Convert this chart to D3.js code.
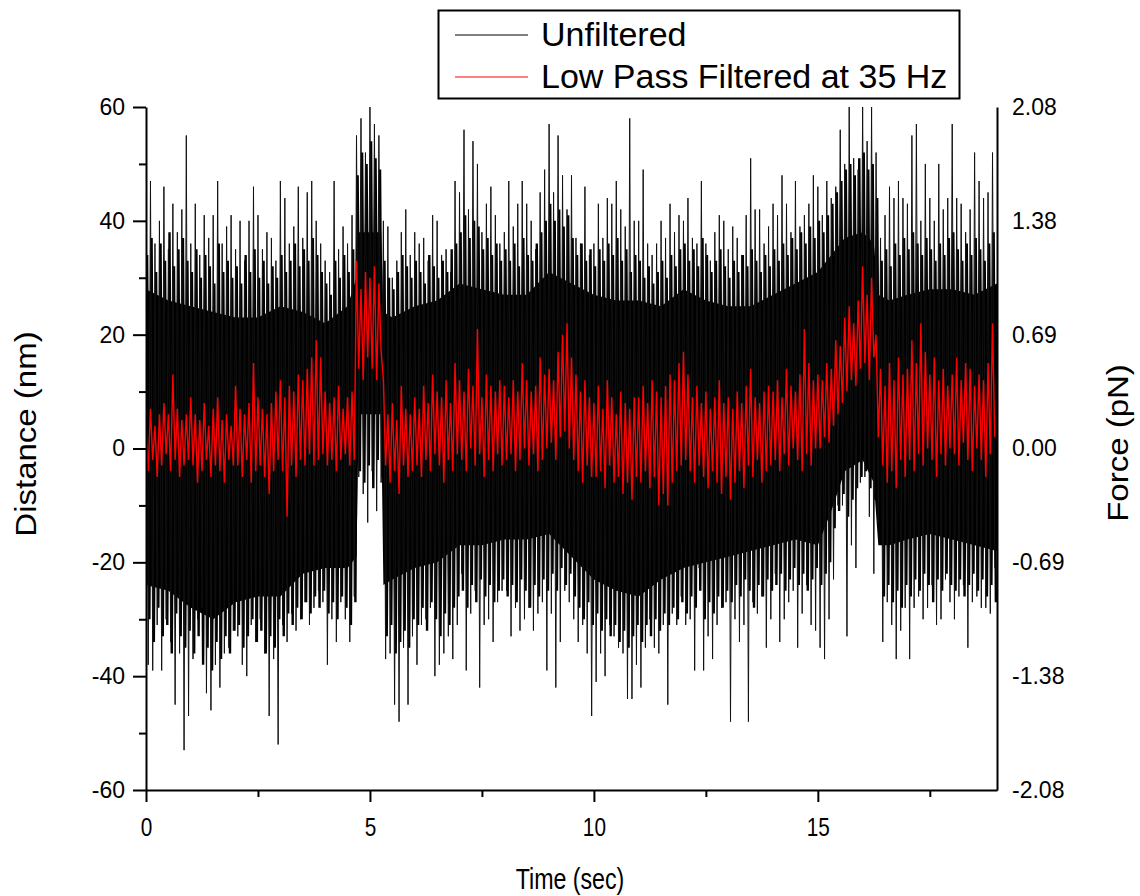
<!DOCTYPE html>
<html lang="en">
<head>
  <meta charset="UTF-8">
  <title>Distance / Force trace</title>
  <script src="https://d3js.org/d3.v7.min.js"></script>
  <style>
    html, body {
      margin: 0;
      padding: 0;
      background: #fff;
    }
    svg {
      display: block;
      font-family: Arial, "Liberation Sans", sans-serif;
    }
  </style>
</head>
<body>
<svg id="canvas" width="1140" height="896"></svg>

<script>
  // sampling step of the envelope arrays below (sec)
  let step = 0.1

  // unfiltered trace: tallest spikes, max / min of each 0.1 s bin (nm)
  let peakHi = [
    43, 47, 36, 40, 46, 35, 43, 38, 42, 55,
    36, 43, 34, 41, 37, 41, 47, 36, 39, 41,
    35, 40, 33, 40, 46, 41, 35, 38, 37, 33,
    47, 44, 36, 39, 46, 37, 45, 47, 40, 36,
    33, 31, 47, 35, 39, 36, 41, 55, 58, 52,
    60, 57, 55, 40, 39, 30, 33, 38, 42, 34,
    38, 36, 37, 33, 41, 40, 34, 35, 31, 47,
    45, 56, 42, 54, 50, 38, 43, 46, 41, 36,
    38, 47, 39, 43, 47, 43, 40, 35, 45, 49,
    57, 45, 55, 48, 42, 48, 37, 36, 46, 34,
    36, 43, 37, 44, 43, 47, 42, 39, 58, 40,
    40, 49, 36, 34, 36, 40, 37, 43, 38, 41,
    40, 44, 37, 36, 47, 36, 33, 38, 41, 40,
    35, 39, 37, 34, 41, 51, 42, 42, 36, 39,
    43, 41, 48, 43, 38, 47, 39, 41, 43, 48,
    46, 41, 47, 44, 46, 56, 50, 60, 51, 49,
    60, 54, 60, 52, 37, 41, 46, 44, 47, 44,
    43, 55, 57, 40, 50, 44, 40, 50, 42, 44,
    57, 44, 43, 38, 42, 52, 47, 44, 45, 52
  ]
  let peakLo = [
    -38, -39, -31, -39, -30, -34, -45, -36, -53, -47,
    -37, -30, -28, -43, -46, -38, -42, -36, -35, -32,
    -33, -38, -40, -31, -34, -30, -36, -47, -37, -52,
    -31, -34, -29, -32, -30, -27, -31, -28, -25, -27,
    -38, -30, -34, -27, -30, -34, -26, -5, -8, -13,
    -4, -11, -6, -37, -36, -45, -48, -35, -45, -33,
    -38, -31, -30, -28, -40, -38, -36, -33, -37, -31,
    -22, -39, -29, -25, -42, -31, -30, -34, -27, -25,
    -25, -33, -28, -32, -30, -28, -32, -29, -27, -39,
    -29, -42, -34, -25, -27, -30, -34, -31, -36, -47,
    -41, -36, -40, -31, -33, -35, -36, -44, -44, -38,
    -42, -35, -30, -35, -36, -31, -45, -29, -31, -26,
    -31, -30, -39, -21, -39, -33, -37, -31, -28, -27,
    -48, -30, -34, -31, -48, -27, -29, -26, -35, -30,
    -22, -34, -30, -27, -25, -35, -29, -24, -31, -32,
    -35, -37, -30, -23, -10, -10, -33, -17, -21, -6,
    -5, -12, -22, -13, -34, -27, -31, -37, -32, -28,
    -37, -28, -26, -30, -28, -24, -31, -30, -23, -27,
    -30, -26, -24, -35, -27, -26, -28, -28, -29, -21
  ]

  // unfiltered trace: tips of the dense spikes, per 0.1 s bin (nm)
  let edgeHi = [
    34, 37, 31, 36, 33, 38, 32, 35, 37, 33,
    31, 35, 30, 34, 32, 29, 36, 31, 33, 30,
    32, 29, 34, 31, 35, 30, 33, 29, 32, 30,
    34, 31, 33, 36, 32, 35, 33, 37, 34, 31,
    29, 27, 33, 30, 34, 31, 35, 48, 52, 50,
    54, 51, 49, 33, 30, 28, 31, 34, 32, 30,
    33, 31, 29, 34, 32, 30, 33, 31, 35, 36,
    38, 41, 37, 40, 39, 35, 37, 34, 36, 33,
    35, 33, 36, 32, 37, 34, 33, 36, 38, 40,
    43, 40, 42, 39, 41, 37, 34, 36, 33, 35,
    32, 35, 33, 36, 34, 37, 33, 35, 31, 34,
    33, 30, 32, 29, 31, 33, 30, 34, 32, 35,
    36, 33, 35, 32, 37, 34, 31, 33, 35, 32,
    30, 33, 31, 34, 32, 35, 33, 31, 34, 32,
    35, 33, 36, 34, 37, 35, 38, 36, 39, 37,
    40, 38, 41, 43, 45, 47, 49, 50, 48, 51,
    52, 49, 50, 44, 33, 35, 32, 36, 34, 37,
    35, 38, 36, 34, 37, 35, 33, 36, 34, 37,
    38, 35, 33, 36, 34, 37, 35, 33, 36, 38
  ]
  let edgeLo = [
    -30, -34, -28, -33, -31, -36, -29, -33, -35, -32,
    -36, -33, -38, -35, -39, -34, -37, -33, -36, -32,
    -31, -35, -33, -30, -34, -32, -36, -33, -35, -30,
    -33, -29, -31, -28, -30, -27, -29, -26, -28, -25,
    -29, -27, -30, -26, -28, -31, -27, -4, -6, -3,
    -7, -2, -5, -33, -31, -36, -34, -32, -35, -30,
    -31, -28, -32, -27, -30, -33, -29, -31, -28, -26,
    -25, -28, -24, -27, -23, -26, -24, -27, -25, -23,
    -26, -24, -27, -23, -25, -28, -24, -26, -23, -25,
    -22, -25, -21, -24, -22, -26, -28, -30, -27, -31,
    -29, -32, -30, -33, -31, -34, -32, -35, -33, -31,
    -34, -31, -33, -30, -32, -29, -31, -28, -30, -27,
    -29, -26, -28, -25, -30, -27, -29, -26, -28, -25,
    -27, -24, -26, -23, -25, -28, -24, -26, -23, -25,
    -24, -22, -25, -23, -21, -24, -22, -25, -23, -21,
    -24, -22, -20, -14, -11, -8, -12, -9, -7, -5,
    -4, -7, -9, -14, -26, -24, -27, -25, -28, -24,
    -26, -23, -25, -22, -24, -27, -23, -25, -22, -24,
    -25, -23, -26, -24, -22, -25, -23, -26, -24, -27
  ]

  // solid middle of the unfiltered trace
  let coreT  = [0, 0.5, 1, 1.5, 2, 2.5, 3, 3.5, 4, 4.5, 4.7, 4.75, 5.25, 5.3, 5.5, 6, 6.5, 7, 7.5, 8,
                8.5, 9, 9.5, 10, 10.5, 11, 11.5, 12, 12.5, 13, 13.5, 14, 14.5, 15, 15.3, 15.6, 16, 16.25, 16.35, 16.6,
                17, 17.5, 18, 18.5, 19]
  let coreHi = [28, 26, 25, 24, 23, 23, 25, 24, 22, 25, 30, 38, 38, 24, 23, 25, 26, 29, 28, 27,
                27, 31, 29, 27, 26, 26, 25, 28, 26, 25, 25, 27, 29, 31, 34, 37, 38, 36, 27, 26,
                27, 28, 28, 27, 29]
  let coreLo = [-24, -25, -28, -30, -27, -26, -26, -22, -21, -21, -19, 6, 6, -24, -23, -21, -20, -17, -17, -16,
                -16, -15, -19, -23, -25, -26, -23, -21, -20, -19, -18, -17, -16, -17, -11, -4, -2, -6, -17, -17,
                -16, -15, -16, -17, -18]

  // low pass filtered trace: max / min of each 0.1 s bin (nm)
  let redHi = [
    5, 7, 4, 6, 8, 6, 13, 7, 5, 6,
    9, 6, 5, 8, 4, 7, 9, 5, 6, 4,
    11, 7, 6, 8, 15, 9, 7, 6, 8, 10,
    12, 9, 11, 10, 13, 12, 14, 16, 19, 16,
    10, 8, 9, 11, 7, 9, 10, 33, 28, 31,
    30, 32, 29, 12, 6, 8, 5, 11, 7, 6,
    9, 7, 11, 8, 13, 10, 9, 12, 8, 15,
    12, 10, 14, 11, 21, 9, 13, 11, 10, 12,
    11, 9, 12, 10, 15, 12, 10, 11, 16, 13,
    14, 12, 17, 20, 22, 16, 13, 10, 12, 9,
    8, 11, 7, 12, 9, 6, 10, 8, 7, 9,
    9, 11, 8, 12, 10, 9, 11, 13, 12, 15,
    17, 13, 9, 11, 8, 10, 7, 9, 12, 8,
    9, 7, 10, 8, 11, 14, 9, 8, 10, 11,
    10, 12, 9, 14, 11, 10, 13, 21, 15, 12,
    13, 12, 15, 14, 19, 18, 23, 25, 22, 26,
    32, 27, 30, 20, 14, 11, 15, 12, 16, 13,
    14, 19, 15, 22, 17, 13, 16, 12, 14, 11,
    13, 16, 12, 15, 14, 11, 13, 12, 15, 22
  ]
  let redLo = [
    -4, -2, -5, -3, -1, -4, -2, -5, -3, -2,
    -3, -6, -4, -2, -5, -3, -4, -6, -2, -3,
    -3, -5, -2, -6, -4, -3, -5, -8, -4, -2,
    -4, -12, -3, -5, -2, -3, -1, -3, -2, -1,
    -3, -2, -4, -2, -1, -3, -2, 14, 12, 16,
    14, 12, 17, -3, -6, -4, -8, -3, -5, -4,
    -3, -5, -2, -4, -1, -3, -6, -2, -4, -1,
    -2, -4, 0, -3, -1, -5, -2, -4, -1, -3,
    -2, -1, -4, -2, 0, -3, -1, -4, -2, 0,
    1, -2, 2, 3, 0, -2, -4, -6, -3, -5,
    -5, -4, -7, -3, -6, -5, -8, -6, -9, -5,
    -6, -4, -7, -5, -10, -8, -10, -6, -4, -3,
    -2, -4, -6, -3, -5, -7, -4, -6, -8, -5,
    -9, -6, -4, -7, -3, -5, -2, -6, -4, -3,
    -2, -4, -1, -3, 0, -2, -4, -1, -3, 0,
    0, 2, 1, 4, 6, 8, 10, 12, 11, 14,
    15, 12, 16, 2, -3, -6, -4, -7, -2, -5,
    -2, -4, -1, -3, 0, -2, -5, -1, -3, 0,
    -1, -3, 1, -2, -4, 0, -2, -5, -1, 2
  ]

  // axes
  let distTicks  = [-60, -40, -20, 0, 20, 40, 60]
  let distMinor  = [-50, -30, -10, 10, 30, 50]
  let forceLabels = ["-2.08", "-1.38", "-0.69", "0.00", "0.69", "1.38", "2.08"]
  let timeTicks  = [0, 5, 10, 15]
  let timeMinor  = [2.5, 7.5, 12.5, 17.5]
  let legendNames = ["Unfiltered", "Low Pass Filtered at 35 Hz"]
  let legendColors = ["#000", "#ff0000"]

  let canvas = d3.select('#canvas')
  let plotL = 146, plotR = 997, plotT = 107, plotB = 790

  let x = d3.scaleLinear().domain([0, 19]).range([plotL, plotR])
  let y = d3.scaleLinear().domain([-60, 60]).range([plotB, plotT])

  canvas.append('clipPath').attr('id', 'plotClip')
    .append('rect')
    .attr('x', plotL).attr('y', plotT)
    .attr('width', plotR - plotL).attr('height', plotB - plotT)

  let plot = canvas.append('g').attr('clip-path', 'url(#plotClip)')

  // zigzag each bin: max then min, half a step apart (shift moves the bins a bit)
  let zigzag = (hi, lo, shift) => {
    let pts = []
    hi.forEach((v, i) => {
      pts.push([i * step + shift, v])
      pts.push([i * step + shift + step / 2, lo[i]])
    })
    return pts
  }

  let line = d3.line().x(d => x(d[0])).y(d => y(d[1]))

  let core = coreT.map((t, i) => ({t: t, hi: coreHi[i], lo: coreLo[i]}))
  plot.append('path')
    .datum(core)
    .attr('fill', '#000')
    .attr('d', d3.area().x(d => x(d.t)).y0(d => y(d.lo)).y1(d => y(d.hi)))

  plot.append('path')
    .datum(zigzag(edgeHi, edgeLo, step / 4))
    .attr('fill', 'none')
    .attr('stroke', '#000')
    .attr('stroke-width', 2.4)
    .attr('d', line)

  plot.append('path')
    .datum(zigzag(peakHi, peakLo, 0))
    .attr('fill', 'none')
    .attr('stroke', '#111')
    .attr('stroke-width', 1)
    .attr('d', line)

  plot.append('path')
    .datum(zigzag(redHi, redLo, 0))
    .attr('fill', 'none')
    .attr('stroke', '#ff0000')
    .attr('stroke-width', 1.4)
    .attr('d', line)

  // left axis
  let gl = canvas.append('g').attr('transform', `translate(${plotL},0)`)
    .call(d3.axisLeft(y).tickValues(distTicks).tickSize(13).tickSizeOuter(0).tickPadding(8)
      .tickFormat(d => String(d)))
  canvas.append('g').attr('transform', `translate(${plotL},0)`)
    .call(d3.axisLeft(y).tickValues(distMinor).tickSize(7).tickFormat(''))
    .call(g => g.select('.domain').remove())

  // right axis, labels only
  let gr = canvas.append('g').attr('transform', `translate(${plotR},0)`)
    .call(d3.axisRight(y).tickValues(distTicks).tickSize(0).tickSizeOuter(0).tickPadding(15)
      .tickFormat((d, i) => forceLabels[i]))

  // bottom axis
  let gb = canvas.append('g').attr('transform', `translate(0,${plotB})`)
    .call(d3.axisBottom(x).tickValues(timeTicks).tickSize(12).tickSizeOuter(0).tickPadding(16))
  canvas.append('g').attr('transform', `translate(0,${plotB})`)
    .call(d3.axisBottom(x).tickValues(timeMinor).tickSize(7).tickFormat(''))
    .call(g => g.select('.domain').remove())

  canvas.selectAll('.domain, .tick line').attr('stroke', '#000').attr('stroke-width', 2)
  canvas.selectAll('.tick text').attr('fill', '#000').attr('font-family', 'Arial, "Liberation Sans", sans-serif')
  gl.selectAll('.tick text').attr('font-size', 23)
  gr.selectAll('.tick text').attr('font-size', 23)
  gb.selectAll('.tick text').attr('font-size', 26).attr('transform', 'scale(0.8,1)')

  // axis titles
  canvas.append('text')
    .attr('transform', 'translate(36,434) rotate(-90) scale(1.1,1)')
    .attr('text-anchor', 'middle')
    .attr('font-size', 30)
    .text('Distance (nm)')

  canvas.append('text')
    .attr('transform', 'translate(1128,443) rotate(-90) scale(1.1,1)')
    .attr('text-anchor', 'middle')
    .attr('font-size', 30)
    .text('Force (pN)')

  canvas.append('text')
    .attr('transform', 'translate(570,889) scale(0.8,1)')
    .attr('text-anchor', 'middle')
    .attr('font-size', 29)
    .text('Time (sec)')

  // legend
  let legend = canvas.append('g')
  legend.append('rect')
    .attr('x', 438.5).attr('y', 10.5)
    .attr('width', 521).attr('height', 88)
    .attr('fill', '#fff').attr('stroke', '#000').attr('stroke-width', 2)

  legendNames.forEach((name, i) => {
    let ly = 35 + i * 42
    legend.append('line')
      .attr('x1', 455).attr('x2', 528)
      .attr('y1', ly).attr('y2', ly)
      .attr('stroke', legendColors[i]).attr('stroke-width', 1)
    legend.append('text')
      .attr('x', 541).attr('y', ly + 11)
      .attr('font-size', 34)
      .text(name)
  })
</script>
</body>
</html>
